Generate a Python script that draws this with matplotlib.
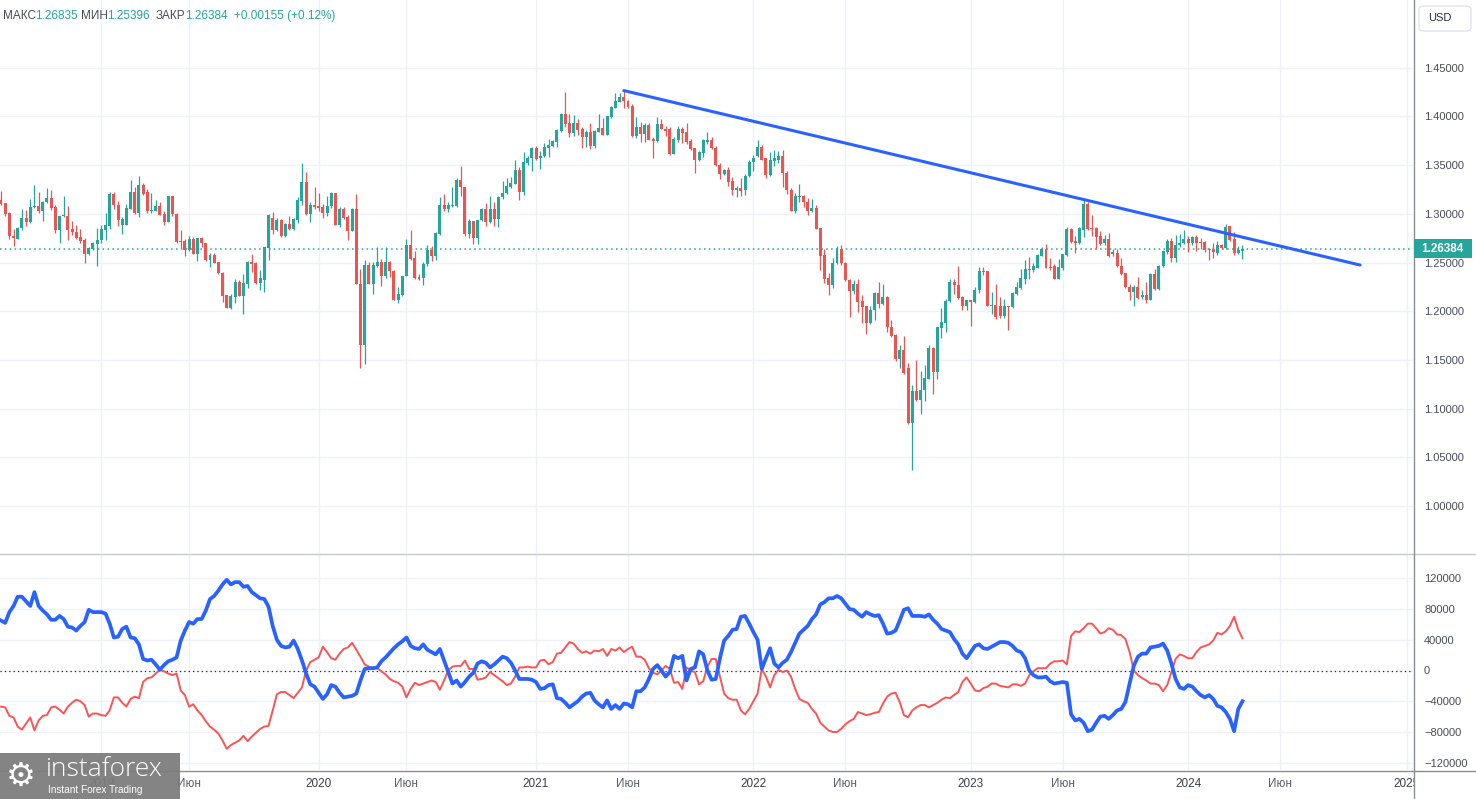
import numpy as np
import pandas as pd
import matplotlib
matplotlib.use("Agg")
import matplotlib.pyplot as plt
import matplotlib.dates as mdates
from matplotlib.patches import Rectangle, FancyBboxPatch
from matplotlib.lines import Line2D

plt.rcParams['font.family'] = ['Liberation Sans', 'DejaVu Sans']

#%% Data: weekly GBP/USD candles
first_week = "2018-07-23"
n_weeks = 298

opens = [
    1.314, 1.311, 1.301, 1.277, 1.274, 1.285, 1.296, 1.292, 1.307, 1.308,
    1.303, 1.312, 1.316, 1.307, 1.283, 1.298, 1.298, 1.284, 1.281, 1.276,
    1.273, 1.259, 1.264, 1.269, 1.273, 1.283, 1.287, 1.320, 1.309, 1.289,
    1.289, 1.305, 1.322, 1.301, 1.330, 1.322, 1.303, 1.303, 1.308, 1.300,
    1.292, 1.318, 1.300, 1.272, 1.272, 1.263, 1.274, 1.259, 1.275, 1.270,
    1.253, 1.258, 1.251, 1.239, 1.217, 1.203, 1.215, 1.230, 1.216, 1.228,
    1.251, 1.249, 1.229, 1.232, 1.265, 1.296, 1.283, 1.294, 1.277, 1.290,
    1.284, 1.294, 1.313, 1.333, 1.300, 1.309, 1.308, 1.307, 1.301, 1.308,
    1.321, 1.289, 1.305, 1.297, 1.282, 1.305, 1.228, 1.165, 1.247, 1.228,
    1.246, 1.251, 1.236, 1.251, 1.241, 1.211, 1.217, 1.236, 1.268, 1.255,
    1.235, 1.234, 1.248, 1.263, 1.257, 1.279, 1.309, 1.305, 1.308, 1.308,
    1.335, 1.328, 1.279, 1.293, 1.275, 1.294, 1.305, 1.292, 1.305, 1.295,
    1.317, 1.321, 1.328, 1.331, 1.345, 1.322, 1.352, 1.357, 1.368, 1.357,
    1.359, 1.368, 1.370, 1.374, 1.385, 1.402, 1.393, 1.383, 1.393, 1.387,
    1.379, 1.384, 1.370, 1.384, 1.388, 1.381, 1.399, 1.409, 1.415, 1.420,
    1.416, 1.411, 1.380, 1.389, 1.382, 1.391, 1.377, 1.375, 1.392, 1.387,
    1.387, 1.361, 1.376, 1.387, 1.384, 1.375, 1.368, 1.355, 1.362, 1.374,
    1.376, 1.368, 1.350, 1.341, 1.345, 1.334, 1.324, 1.326, 1.324, 1.339,
    1.353, 1.359, 1.369, 1.357, 1.340, 1.354, 1.355, 1.359, 1.342, 1.324,
    1.303, 1.317, 1.318, 1.312, 1.303, 1.306, 1.285, 1.258, 1.234, 1.227,
    1.249, 1.264, 1.250, 1.232, 1.221, 1.228, 1.210, 1.205, 1.188, 1.201,
    1.219, 1.207, 1.215, 1.184, 1.176, 1.151, 1.160, 1.142, 1.085, 1.118,
    1.109, 1.119, 1.130, 1.162, 1.138, 1.183, 1.188, 1.210, 1.230, 1.227,
    1.215, 1.205, 1.211, 1.209, 1.222, 1.241, 1.241, 1.205, 1.206, 1.205,
    1.195, 1.205, 1.204, 1.218, 1.224, 1.233, 1.243, 1.242, 1.244, 1.257,
    1.264, 1.245, 1.246, 1.233, 1.244, 1.258, 1.284, 1.272, 1.270, 1.283,
    1.310, 1.285, 1.285, 1.277, 1.270, 1.274, 1.259, 1.260, 1.246, 1.239,
    1.225, 1.220, 1.225, 1.215, 1.217, 1.212, 1.238, 1.223, 1.246, 1.261,
    1.272, 1.255, 1.268, 1.270, 1.274, 1.270, 1.276, 1.271, 1.271, 1.264,
    1.264, 1.260, 1.268, 1.265, 1.287, 1.274, 1.260, 1.26229,
]
highs = [
    1.323, 1.311, 1.302, 1.284, 1.286, 1.305, 1.304, 1.315, 1.330, 1.322,
    1.313, 1.326, 1.324, 1.309, 1.298, 1.318, 1.308, 1.293, 1.288, 1.284,
    1.275, 1.266, 1.271, 1.285, 1.288, 1.301, 1.322, 1.322, 1.313, 1.297,
    1.310, 1.335, 1.328, 1.339, 1.332, 1.325, 1.321, 1.314, 1.312, 1.303,
    1.318, 1.318, 1.301, 1.283, 1.274, 1.277, 1.276, 1.275, 1.276, 1.270,
    1.260, 1.260, 1.251, 1.240, 1.217, 1.218, 1.233, 1.232, 1.238, 1.252,
    1.259, 1.251, 1.242, 1.266, 1.300, 1.302, 1.296, 1.295, 1.291, 1.298,
    1.296, 1.317, 1.352, 1.343, 1.312, 1.328, 1.321, 1.310, 1.318, 1.322,
    1.321, 1.307, 1.307, 1.299, 1.306, 1.320, 1.243, 1.253, 1.251, 1.251,
    1.266, 1.254, 1.266, 1.252, 1.242, 1.225, 1.236, 1.274, 1.283, 1.262,
    1.238, 1.251, 1.268, 1.267, 1.281, 1.317, 1.320, 1.312, 1.328, 1.337,
    1.349, 1.328, 1.295, 1.293, 1.294, 1.306, 1.311, 1.318, 1.312, 1.318,
    1.334, 1.337, 1.338, 1.355, 1.348, 1.363, 1.359, 1.369, 1.370, 1.364,
    1.373, 1.377, 1.376, 1.387, 1.404, 1.425, 1.402, 1.401, 1.397, 1.389,
    1.386, 1.393, 1.386, 1.402, 1.398, 1.400, 1.411, 1.424, 1.424, 1.427,
    1.417, 1.413, 1.399, 1.394, 1.393, 1.393, 1.379, 1.399, 1.397, 1.390,
    1.389, 1.379, 1.390, 1.389, 1.393, 1.377, 1.368, 1.364, 1.377, 1.384,
    1.379, 1.370, 1.352, 1.346, 1.348, 1.338, 1.329, 1.337, 1.341, 1.355,
    1.360, 1.376, 1.371, 1.357, 1.363, 1.365, 1.364, 1.365, 1.344, 1.326,
    1.321, 1.331, 1.319, 1.316, 1.315, 1.309, 1.285, 1.264, 1.239, 1.255,
    1.267, 1.268, 1.251, 1.233, 1.232, 1.233, 1.217, 1.205, 1.205, 1.220,
    1.230, 1.228, 1.216, 1.191, 1.177, 1.165, 1.175, 1.147, 1.124, 1.150,
    1.139, 1.145, 1.165, 1.163, 1.184, 1.203, 1.213, 1.233, 1.233, 1.246,
    1.216, 1.212, 1.212, 1.225, 1.245, 1.245, 1.241, 1.220, 1.228, 1.215,
    1.213, 1.205, 1.220, 1.230, 1.243, 1.253, 1.256, 1.249, 1.259, 1.266,
    1.269, 1.255, 1.248, 1.254, 1.259, 1.286, 1.285, 1.277, 1.286, 1.314,
    1.312, 1.299, 1.286, 1.282, 1.278, 1.280, 1.264, 1.264, 1.255, 1.239,
    1.228, 1.227, 1.235, 1.222, 1.230, 1.239, 1.243, 1.247, 1.262, 1.274,
    1.275, 1.278, 1.279, 1.283, 1.277, 1.277, 1.278, 1.275, 1.272, 1.265,
    1.270, 1.272, 1.269, 1.290, 1.287, 1.281, 1.267, 1.26835,
]
lows = [
    1.309, 1.298, 1.274, 1.267, 1.274, 1.283, 1.287, 1.291, 1.306, 1.301,
    1.293, 1.311, 1.304, 1.280, 1.270, 1.297, 1.273, 1.278, 1.274, 1.270,
    1.249, 1.258, 1.263, 1.246, 1.270, 1.273, 1.284, 1.305, 1.287, 1.279,
    1.288, 1.305, 1.300, 1.297, 1.319, 1.301, 1.301, 1.303, 1.299, 1.288,
    1.292, 1.298, 1.270, 1.265, 1.257, 1.262, 1.259, 1.252, 1.266, 1.252,
    1.245, 1.250, 1.238, 1.209, 1.203, 1.202, 1.208, 1.216, 1.197, 1.224,
    1.240, 1.228, 1.222, 1.220, 1.253, 1.279, 1.282, 1.276, 1.276, 1.283,
    1.283, 1.291, 1.309, 1.299, 1.292, 1.305, 1.303, 1.296, 1.298, 1.306,
    1.289, 1.286, 1.295, 1.273, 1.282, 1.228, 1.142, 1.146, 1.228, 1.218,
    1.245, 1.226, 1.234, 1.235, 1.211, 1.208, 1.216, 1.236, 1.253, 1.233,
    1.232, 1.227, 1.246, 1.252, 1.253, 1.278, 1.303, 1.302, 1.307, 1.307,
    1.318, 1.277, 1.275, 1.269, 1.269, 1.293, 1.287, 1.291, 1.287, 1.286,
    1.315, 1.320, 1.326, 1.331, 1.314, 1.319, 1.350, 1.344, 1.355, 1.346,
    1.358, 1.358, 1.369, 1.369, 1.384, 1.389, 1.379, 1.380, 1.381, 1.368,
    1.369, 1.367, 1.368, 1.384, 1.381, 1.381, 1.398, 1.409, 1.415, 1.409,
    1.409, 1.379, 1.378, 1.374, 1.374, 1.376, 1.357, 1.374, 1.387, 1.380,
    1.360, 1.361, 1.374, 1.373, 1.372, 1.366, 1.342, 1.354, 1.358, 1.372,
    1.367, 1.349, 1.336, 1.340, 1.329, 1.319, 1.317, 1.318, 1.319, 1.338,
    1.344, 1.358, 1.355, 1.337, 1.339, 1.349, 1.352, 1.328, 1.320, 1.303,
    1.301, 1.312, 1.307, 1.299, 1.302, 1.284, 1.242, 1.229, 1.217, 1.224,
    1.248, 1.247, 1.231, 1.194, 1.218, 1.199, 1.188, 1.177, 1.187, 1.191,
    1.203, 1.206, 1.179, 1.173, 1.149, 1.142, 1.136, 1.084, 1.037, 1.108,
    1.094, 1.108, 1.130, 1.115, 1.130, 1.172, 1.179, 1.209, 1.218, 1.213,
    1.201, 1.201, 1.185, 1.208, 1.219, 1.237, 1.205, 1.197, 1.192, 1.193,
    1.193, 1.181, 1.203, 1.217, 1.223, 1.228, 1.233, 1.240, 1.244, 1.257,
    1.244, 1.242, 1.233, 1.233, 1.242, 1.257, 1.270, 1.260, 1.269, 1.276,
    1.283, 1.277, 1.264, 1.268, 1.268, 1.256, 1.257, 1.245, 1.237, 1.224,
    1.212, 1.205, 1.213, 1.213, 1.208, 1.211, 1.222, 1.222, 1.245, 1.259,
    1.251, 1.251, 1.266, 1.269, 1.261, 1.268, 1.262, 1.264, 1.261, 1.253,
    1.255, 1.258, 1.264, 1.264, 1.272, 1.258, 1.259, 1.25396,
]
closes = [
    1.310, 1.300, 1.277, 1.275, 1.285, 1.296, 1.292, 1.307, 1.308, 1.303,
    1.312, 1.316, 1.306, 1.283, 1.298, 1.299, 1.283, 1.281, 1.275, 1.272,
    1.259, 1.265, 1.270, 1.273, 1.284, 1.288, 1.320, 1.309, 1.294, 1.295,
    1.306, 1.322, 1.301, 1.330, 1.320, 1.303, 1.304, 1.308, 1.299, 1.292,
    1.318, 1.300, 1.271, 1.271, 1.263, 1.274, 1.259, 1.275, 1.270, 1.253,
    1.258, 1.250, 1.239, 1.216, 1.203, 1.216, 1.230, 1.216, 1.229, 1.251,
    1.248, 1.229, 1.234, 1.266, 1.299, 1.283, 1.294, 1.277, 1.290, 1.284,
    1.295, 1.314, 1.333, 1.300, 1.309, 1.307, 1.306, 1.301, 1.308, 1.321,
    1.289, 1.305, 1.296, 1.282, 1.305, 1.228, 1.165, 1.247, 1.228, 1.247,
    1.251, 1.236, 1.251, 1.241, 1.211, 1.218, 1.236, 1.268, 1.254, 1.234,
    1.233, 1.248, 1.263, 1.257, 1.280, 1.309, 1.305, 1.309, 1.309, 1.335,
    1.328, 1.279, 1.293, 1.275, 1.294, 1.305, 1.292, 1.305, 1.295, 1.317,
    1.321, 1.329, 1.332, 1.345, 1.322, 1.353, 1.357, 1.368, 1.356, 1.359,
    1.369, 1.371, 1.375, 1.386, 1.402, 1.392, 1.383, 1.393, 1.386, 1.379,
    1.384, 1.370, 1.385, 1.388, 1.381, 1.400, 1.410, 1.416, 1.420, 1.416,
    1.410, 1.380, 1.389, 1.382, 1.391, 1.376, 1.375, 1.392, 1.387, 1.385,
    1.361, 1.377, 1.387, 1.383, 1.374, 1.367, 1.355, 1.363, 1.376, 1.376,
    1.368, 1.350, 1.341, 1.345, 1.333, 1.324, 1.326, 1.323, 1.339, 1.353,
    1.357, 1.369, 1.355, 1.340, 1.355, 1.357, 1.359, 1.342, 1.324, 1.303,
    1.318, 1.318, 1.312, 1.303, 1.306, 1.284, 1.257, 1.233, 1.227, 1.250,
    1.264, 1.249, 1.232, 1.221, 1.228, 1.209, 1.204, 1.188, 1.201, 1.219,
    1.207, 1.215, 1.184, 1.175, 1.151, 1.160, 1.137, 1.085, 1.118, 1.109,
    1.119, 1.131, 1.162, 1.138, 1.184, 1.189, 1.210, 1.230, 1.227, 1.214,
    1.205, 1.211, 1.209, 1.222, 1.241, 1.240, 1.205, 1.206, 1.194, 1.195,
    1.205, 1.204, 1.219, 1.225, 1.234, 1.243, 1.242, 1.246, 1.258, 1.264,
    1.244, 1.244, 1.233, 1.245, 1.259, 1.284, 1.271, 1.270, 1.285, 1.310,
    1.284, 1.284, 1.276, 1.269, 1.274, 1.257, 1.261, 1.246, 1.238, 1.225,
    1.220, 1.225, 1.214, 1.217, 1.212, 1.238, 1.223, 1.246, 1.262, 1.272,
    1.255, 1.268, 1.270, 1.274, 1.270, 1.276, 1.270, 1.270, 1.263, 1.263,
    1.261, 1.268, 1.265, 1.286, 1.273, 1.260, 1.263, 1.26384,
]

# COT net positions, thousands of contracts (blue / red lines)
cot_blue_k = [
    65, 62, 76, 84, 96, 96, 90, 84, 102, 84,
    78, 73, 66, 66, 71, 67, 57, 56, 52, 58,
    63, 79, 76, 76, 76, 74, 61, 43, 44, 54,
    57, 43, 42, 34, 15, 13, 14, 8, 1, 7,
    12, 14, 17, 39, 52, 63, 61, 67, 67, 78,
    93, 97, 104, 112, 118, 112, 115, 115, 109, 110,
    102, 98, 94, 93, 83, 58, 40, 32, 30, 31,
    39, 28, 13, -4, -18, -21, -29, -37, -31, -19,
    -21, -29, -35, -34, -33, -30, -13, 2, 3, 3,
    4, 12, 17, 23, 29, 34, 38, 43, 32, 29, 28,
    34, 27, 24, 21, 28, 13, -2, -17, -13, -21,
    -15, -8, -3, 9, 12, 10, 4, 8, 13, 18,
    16, 10, 0, -11, -11, -11, -12, -15, -24, -23,
    -19, -18, -36, -37, -42, -48, -44, -40, -34, -30,
    -29, -39, -44, -48, -39, -50, -45, -50, -43, -44,
    -48, -27, -27, -22, -11, 2, 7, 0, -8, -2,
    19, 16, 19, -13, 2, 4, 25, 21, 0, -12,
    -11, 16, 39, 45, 53, 54, 70, 71, 61, 50,
    40, 2, 16, 29, 9, 4, 10, 14, 24, 36,
    48, 53, 58, 67, 73, 86, 89, 94, 94, 97,
    94, 87, 80, 79, 74, 70, 76, 73, 71, 72,
    61, 48, 49, 52, 65, 79, 81, 71, 71, 71,
    70, 73, 66, 61, 54, 52, 50, 41, 34, 22,
    16, 24, 32, 34, 29, 28, 31, 34, 37, 37,
    36, 32, 26, 24, 16, 0, -6, -9, -9, -8,
    -14, -17, -16, -15, -16, -57, -65, -63, -68, -79,
    -77, -68, -60, -59, -63, -58, -52, -50, -41, -17,
    6, 18, 22, 22, 30, 31, 32, 35, 26, 9,
    -11, -22, -24, -19, -21, -27, -32, -35, -32, -37,
    -46, -48, -54, -63, -79, -50, -40,
]
cot_red_k = [
    -47, -48, -59, -61, -73, -77, -69, -61, -78, -65,
    -59, -58, -48, -47, -51, -56, -47, -42, -38, -40,
    -45, -60, -56, -56, -58, -59, -52, -35, -35, -42,
    -47, -37, -34, -36, -15, -10, -9, -4, 1, -1,
    -4, -6, -4, -26, -32, -47, -44, -52, -58, -66,
    -73, -77, -82, -91, -102, -97, -94, -91, -85, -92,
    -86, -81, -76, -73, -72, -52, -31, -28, -28, -32,
    -36, -29, -22, 0, 11, 14, 17, 31, 24, 16,
    14, 22, 28, 30, 36, 27, 18, 8, 5, 3,
    3, -1, -5, -11, -14, -16, -21, -35, -24, -16, -19,
    -17, -15, -13, -15, -25, -13, 0, 5, 6, 6,
    13, 2, 2, -12, -11, -9, -2, -6, -10, -14,
    -19, -17, -8, 4, 4, 5, 4, 4, 13, 14,
    8, 11, 22, 23, 30, 37, 35, 28, 23, 25,
    22, 26, 25, 28, 19, 28, 26, 30, 24, 28,
    31, 18, 18, 14, 3, -3, -5, 0, 6, 2,
    -16, -15, -24, 4, 0, -2, -18, -14, 5, 15,
    15, -8, -30, -36, -38, -38, -52, -57, -50, -40,
    -30, 2, -8, -22, -6, 1, -2, 0, -8, -24,
    -37, -40, -42, -50, -56, -68, -73, -78, -80, -80,
    -76, -70, -66, -63, -54, -56, -58, -57, -55, -54,
    -43, -34, -30, -29, -41, -58, -61, -52, -48, -45,
    -45, -48, -45, -42, -38, -35, -36, -32, -28, -15,
    -9, -17, -26, -27, -23, -21, -17, -17, -20, -21,
    -22, -18, -18, -20, -17, -6, -1, 3, 3, 3,
    9, 12, 12, 13, 8, 45, 51, 50, 55, 61,
    61, 55, 48, 50, 55, 53, 47, 46, 41, 24,
    0, -6, -10, -13, -17, -17, -19, -27, -19, -2,
    15, 21, 19, 16, 16, 24, 30, 32, 34, 39,
    49, 47, 51, 58, 70, 53, 42,
]

# resistance line drawn on the chart
trend_dates = ["2021-05-31", "2024-10-15"]
trend_prices = [1.4265, 1.2474]

last_close = 1.26384
header_parts = [("МАКС", 3, "lbl"), ("1.26835", 35, "val"), ("МИН", 81, "lbl"),
                ("1.25396", 107, "val"), ("ЗАКР", 156, "lbl"), ("1.26384", 185, "val"),
                ("+0.00155 (+0.12%)", 234, "val")]

price_ticks = [1.00, 1.05, 1.10, 1.15, 1.20, 1.25, 1.30, 1.35, 1.40, 1.45]
cot_ticks = [-120000, -80000, -40000, 0, 40000, 80000, 120000]
date_ticks = ["2019-01-07", "2019-06-03", "2020-01-06", "2020-06-01", "2021-01-04",
              "2021-06-07", "2022-01-03", "2022-06-06", "2023-01-02", "2023-06-05",
              "2024-01-01", "2024-06-03", "2025-01-01"]
date_tick_labels = ["2019", "Июн", "2020", "Июн", "2021", "Июн", "2022", "Июн",
                    "2023", "Июн", "2024", "Июн", "2025"]

#%% Style
GREEN = "#26a69a"
RED = "#ef5350"
BLUE = "#2962ff"
RED_LINE = "#ff5252"
GRID = "#eff1f6"
TXT = "#4a4d57"

W, H = 1476, 799
fx = lambda px: px / W
fy = lambda py: 1 - py / H

fig = plt.figure(figsize=(W / 100, H / 100), dpi=100)
fig.patch.set_facecolor("white")

ax = fig.add_axes([0, fy(553), fx(1413), 553 / H])
ax2 = fig.add_axes([0, fy(770), fx(1413), (770 - 555) / H], sharex=ax)

weeks = pd.date_range(first_week, periods=n_weeks, freq="7D")
x = mdates.date2num(weeks)
o, h, l, c = map(np.array, (opens, highs, lows, closes))

#%% Candles
up = c >= o
col = np.where(up, GREEN, RED)
ax.vlines(x, l, h, colors=col, lw=0.9, zorder=3)
body_lo = np.minimum(o, c)
body_h = np.maximum(np.abs(c - o), 0.0009)
ax.bar(x, body_h, bottom=body_lo, width=5.0, color=col, linewidth=0, zorder=4)

# trend line and last price line
ax.plot(mdates.date2num(pd.to_datetime(trend_dates)), trend_prices, color=BLUE, lw=2.2, zorder=5,
        solid_capstyle="round")
ax.axhline(last_close, color=GREEN, lw=1.1, ls=(0, (1, 2.2)), zorder=2)

#%% COT pane
ax2.plot(x[:len(cot_red_k)], np.array(cot_red_k) * 1000, color=RED_LINE, lw=1.4, zorder=3)
ax2.plot(x[:len(cot_blue_k)], np.array(cot_blue_k) * 1000, color=BLUE, lw=2.7, zorder=4,
         solid_joinstyle="round")
ax2.axhline(0, color="#222222", lw=0.9, ls=(0, (1, 2.5)), zorder=2)

#%% Axes, ticks, grid
ppd = 4.18 / 7.0
x0 = mdates.date2num(pd.Timestamp(first_week)) - 1.0 / ppd
ax.set_xlim(x0, x0 + 1413 / ppd)
ax.set_ylim(1 - 47 / 974, 1 + 506 / 974)
ax2.set_ylim((670.5 - 770) * 1301.5, (670.5 - 555) * 1301.5)

for a in (ax, ax2):
    for s in a.spines.values():
        s.set_visible(False)
    a.set_facecolor("white")
    a.grid(True, color=GRID, lw=1, zorder=0)
    a.set_axisbelow(True)
    a.yaxis.tick_right()
    a.tick_params(axis="y", length=0, pad=8, labelsize=8, labelcolor=TXT)

ax.set_yticks(price_ticks)
ax.set_yticklabels([f"{p:.5f}" for p in price_ticks])
ax2.set_yticks(cot_ticks)
ax2.set_yticklabels([str(v).replace("-", "\u2212") for v in cot_ticks])
ax2.set_xticks(mdates.date2num(pd.to_datetime(date_ticks)))
ax2.set_xticklabels(date_tick_labels)
ax.tick_params(axis="x", length=0, labelbottom=False)
ax2.tick_params(axis="x", length=0, pad=6, labelsize=8.5, labelcolor="#3b3e48")
for t, lab in zip(ax2.get_xticklabels(), date_tick_labels):
    if lab == "Июн":
        t.set_color("#5d606b")

#%% Frame lines of the chart window
fig.add_artist(Line2D([0, 1], [fy(554), fy(554)], transform=fig.transFigure, color="#c5c8d0", lw=1, zorder=6))
fig.add_artist(Line2D([0, 1], [fy(770.5), fy(770.5)], transform=fig.transFigure, color="#8a8d96", lw=1, zorder=6))
fig.add_artist(Rectangle((fx(1414), 0), 1 - fx(1414), fy(771), transform=fig.transFigure,
                         facecolor="white", edgecolor="none", zorder=5))
fig.add_artist(Line2D([fx(1413.5), fx(1413.5)], [0, 1], transform=fig.transFigure, color="#8a8d96", lw=1, zorder=6))

# header line
for txt, px, kind in header_parts:
    fig.text(fx(px), fy(16), txt, fontsize=8.5, color=(TXT if kind == "lbl" else GREEN),
             va="center", ha="left")

# currency box
fig.add_artist(FancyBboxPatch((fx(1419), fy(31)), fx(52), 25 / H, boxstyle="round,pad=0,rounding_size=0.004",
                              transform=fig.transFigure, facecolor="white", edgecolor="#e0e3eb", lw=1, zorder=7))
fig.text(fx(1428), fy(18), "USD", fontsize=8, color="#2a2e39", va="center", ha="left", zorder=8)

# last price label
fig.add_artist(Rectangle((fx(1414), fy(258)), fx(58), 19 / H, transform=fig.transFigure,
                         facecolor=GREEN, edgecolor="none", zorder=7))
fig.text(fx(1421), fy(248.5), f"{last_close:.5f}", fontsize=8.5, color="white", fontweight="bold",
         va="center", ha="left", zorder=8)

# watermark logo
fig.add_artist(Rectangle((0, 0), fx(180), 46 / H, transform=fig.transFigure,
                         facecolor="#7b7b7b", edgecolor="none", alpha=0.93, zorder=7))
fig.text(fx(6), fy(776), "\u2699", fontsize=24, color="white", va="center", ha="left",
         family="DejaVu Sans", zorder=8)
fig.text(fx(46), fy(770), "instaforex", fontsize=19, color="white", va="center", ha="left",
         family="Open Sans", fontweight="light", zorder=8)
fig.text(fx(48), fy(790), "Instant Forex Trading", fontsize=7.2, color="white", va="center", ha="left", zorder=8)

fig.savefig("out.png", dpi=100, facecolor="white")
